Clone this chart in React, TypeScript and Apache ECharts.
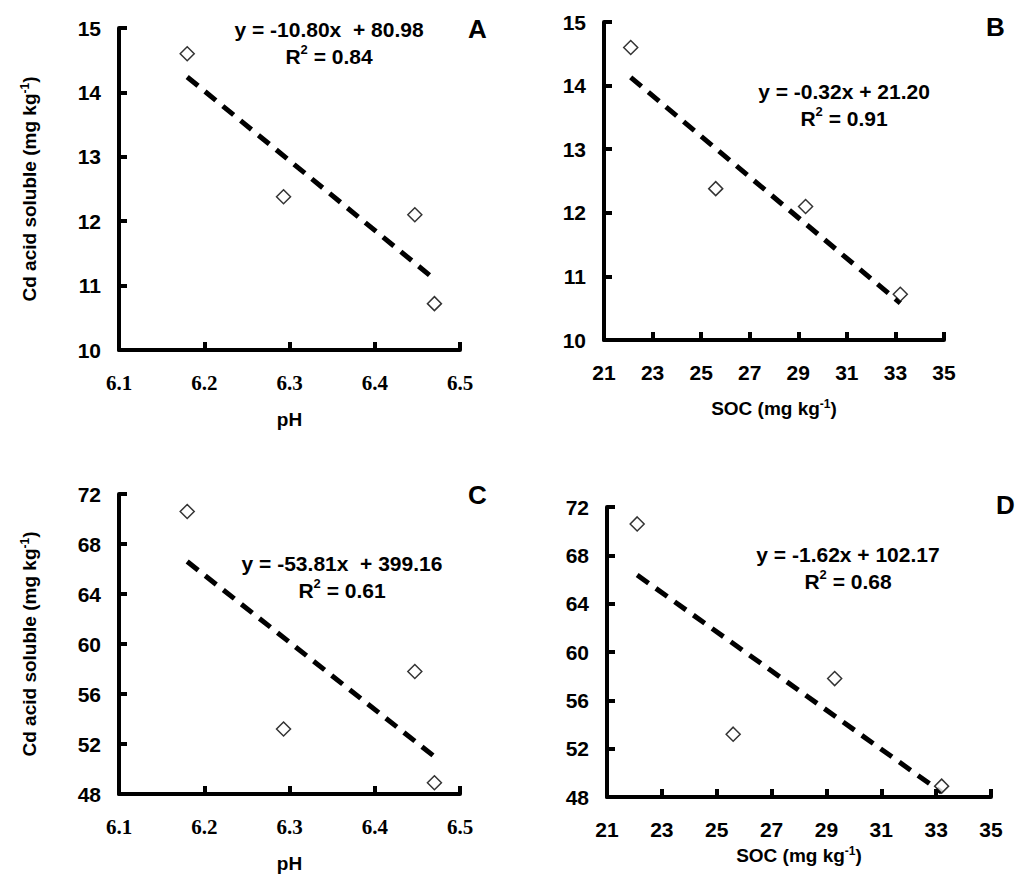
import { useEffect, useRef } from 'react';
import * as echarts from 'echarts';

const phValues = [6.18, 6.293, 6.447, 6.47];
const socValues = [22.1, 25.6, 29.3, 33.2];
const cdA = [14.6, 12.38, 12.1, 10.72];
const cdC = [70.6, 53.2, 57.8, 48.9];
const trendA = [[6.18, 14.24], [6.47, 11.1]];
const trendB = [[22.1, 14.13], [33.2, 10.58]];
const trendC = [[6.18, 66.6], [6.47, 51.0]];
const trendD = [[22.1, 66.37], [33.2, 48.39]];

const SANS = 'Arial';
const SERIF = 'Times New Roman';

interface Panel {
  box: { left: number; top: number; width: number; height: number };
  grid: { left: number; top: number; width: number; height: number };
  isPh: boolean;
  isA: boolean;
  showYName: boolean;
  xs: number[];
  ys: number[];
  fit: number[][];
  eq: string;
  r2: string;
  eqPos: [number, number];
  letter: string;
  letterPos: [number, number];
  xNameGap: number;
}

const panels: Panel[] = [
  { box: { left: 0, top: 0, width: 510, height: 440 }, grid: { left: 119, top: 28, width: 341, height: 322 }, isPh: true, isA: true, showYName: true, xs: phValues, ys: cdA, fit: trendA, eq: 'y = -10.80x  + 80.98', r2: '0.84', eqPos: [329, 16], letter: 'A', letterPos: [468, 16], xNameGap: 60 },
  { box: { left: 510, top: 0, width: 511, height: 440 }, grid: { left: 94, top: 22, width: 340, height: 318 }, isPh: false, isA: true, showYName: false, xs: socValues, ys: cdA, fit: trendB, eq: 'y = -0.32x + 21.20', r2: '0.91', eqPos: [334, 78], letter: 'B', letterPos: [476, 14], xNameGap: 58 },
  { box: { left: 0, top: 440, width: 510, height: 438 }, grid: { left: 119, top: 54, width: 341, height: 306 }, isPh: true, isA: false, showYName: true, xs: phValues, ys: cdC, fit: trendC, eq: 'y = -53.81x  + 399.16', r2: '0.61', eqPos: [342, 110], letter: 'C', letterPos: [468, 42], xNameGap: 60 },
  { box: { left: 510, top: 440, width: 511, height: 438 }, grid: { left: 97, top: 67, width: 384, height: 290 }, isPh: false, isA: false, showYName: false, xs: socValues, ys: cdC, fit: trendD, eq: 'y = -1.62x + 102.17', r2: '0.68', eqPos: [338, 101], letter: 'D', letterPos: [486, 52], xNameGap: 48 },
];

const mkRich = () => ({
  b: { fontFamily: SANS, fontWeight: 700, fontSize: 19, color: '#000' },
  s: { fontFamily: SANS, fontWeight: 700, fontSize: 12, color: '#000', verticalAlign: 'top', padding: [0, 0, 8, 0] },
});

const buildOption = (p: Panel) => ({
  animation: false,
  grid: [p.grid],
  xAxis: [{
    type: 'value',
    min: p.isPh ? 6.1 : 21,
    max: p.isPh ? 6.5 : 35,
    interval: p.isPh ? 0.1 : 2,
    name: p.isPh ? '{b|pH}' : '{b|SOC (mg kg}{s|-1}{b|)}',
    nameLocation: 'middle',
    nameGap: p.xNameGap,
    nameTextStyle: { rich: mkRich() },
    splitLine: { show: false },
    axisLine: { show: true, lineStyle: { color: '#000', width: 4 } },
    axisTick: { show: true, inside: true, length: 8, lineStyle: { color: '#000', width: 4 } },
    axisLabel: {
      color: '#000', fontSize: 21, fontWeight: 700, fontFamily: p.isPh ? SERIF : SANS, margin: 22,
      formatter: (v: number) => (p.isPh ? v.toFixed(1) : String(v)),
    },
  }],
  yAxis: [{
    type: 'value',
    min: p.isA ? 10 : 48,
    max: p.isA ? 15 : 72,
    interval: p.isA ? 1 : 4,
    name: p.showYName ? '{b|Cd acid soluble (mg kg}{s|-1}{b|)}' : '',
    nameLocation: 'middle',
    nameRotate: 90,
    nameGap: 80,
    nameTextStyle: { rich: mkRich() },
    splitLine: { show: false },
    axisLine: { show: true, lineStyle: { color: '#000', width: 4 } },
    axisTick: { show: true, inside: true, length: 8, lineStyle: { color: '#000', width: 4 } },
    axisLabel: { color: '#000', fontSize: 21, fontWeight: 700, fontFamily: SANS, margin: 18 },
  }],
  series: [
    { type: 'line', data: p.fit, symbol: 'none', lineStyle: { color: '#000', width: 5, type: [14, 9] }, z: 2 },
    {
      type: 'scatter', symbol: 'diamond', symbolSize: 14, z: 3,
      itemStyle: { color: '#fff', borderColor: '#000', borderWidth: 1.5 },
      data: p.xs.map((x, i) => [x, p.ys[i]]),
    },
  ],
  graphic: [
    {
      type: 'text', x: p.eqPos[0], y: p.eqPos[1],
      style: {
        text: '{b|' + p.eq + '}\n{b|R}{s|2}{b| = ' + p.r2 + '}',
        align: 'center',
        rich: {
          b: { fontFamily: SANS, fontWeight: 700, fontSize: 21, fill: '#000', lineHeight: 27 },
          s: { fontFamily: SANS, fontWeight: 700, fontSize: 13, fill: '#000', verticalAlign: 'top', lineHeight: 27 },
        },
      },
    },
    { type: 'text', x: p.letterPos[0], y: p.letterPos[1], style: { text: p.letter, fontFamily: SANS, fontWeight: 700, fontSize: 26, fill: '#000' } },
  ],
});

const PanelChart = ({ p }: { p: Panel }) => {
  const ref = useRef<HTMLDivElement>(null);
  useEffect(() => {
    if (!ref.current) return;
    const chart = echarts.init(ref.current, undefined, { renderer: 'svg' });
    chart.setOption(buildOption(p));
    return () => chart.dispose();
  }, [p]);
  return <div ref={ref} style={{ position: 'absolute', ...p.box }} />;
};

export default function App() {
  return (
    <div style={{ position: 'absolute', left: 0, top: 0, width: 1021, height: 878, background: '#fff' }}>
      {panels.map((p) => <PanelChart key={p.letter} p={p} />)}
    </div>
  );
}
